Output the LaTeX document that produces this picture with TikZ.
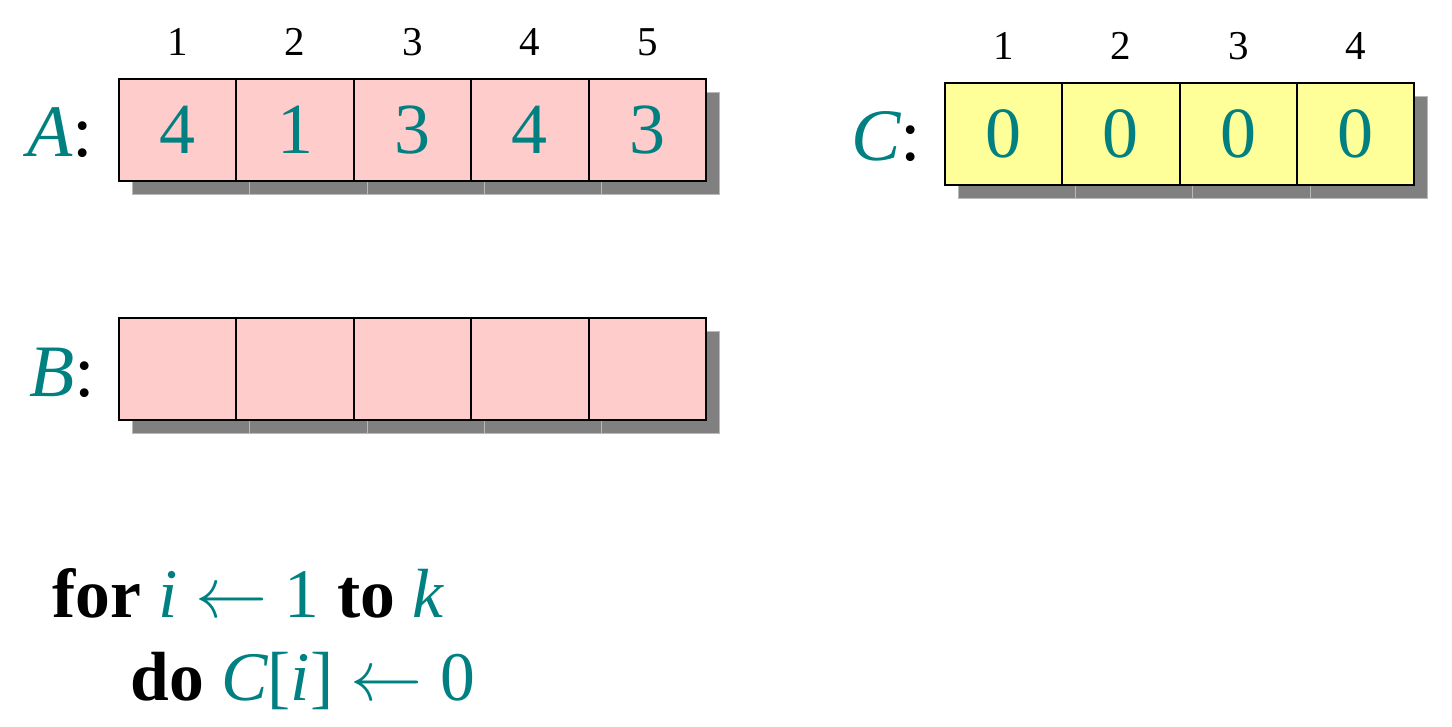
\documentclass[tikz,border=0pt]{standalone}
\usepackage{fontspec}
\usepackage{graphicx}
\setmainfont{Liberation Serif}
\definecolor{tealc}{RGB}{0,128,128}
\definecolor{pinkc}{RGB}{255,204,204}
\definecolor{yellowc}{RGB}{255,255,153}
\definecolor{shadc}{RGB}{128,128,128}
\newcommand{\larr}{\scalebox{1.45}{$\leftarrow$}}
\tikzset{
  cellA/.style={draw=black, line width=1pt, fill=pinkc, inner sep=0pt, minimum width=58.7pt, minimum height=51pt, text=tealc, font=\fontsize{36}{40}\selectfont},
  cellC/.style={cellA, fill=yellowc},
  shadow/.style={fill=shadc, draw=gray!55, line width=0.3pt},
  idx/.style={font=\fontsize{20.5}{24}\selectfont, inner sep=0pt},
  lbl/.style={font=\fontsize{37}{40}\selectfont, inner sep=0pt, anchor=base west},
  code/.style={font=\fontsize{34.8}{40}\selectfont, inner sep=0pt, anchor=base west}
}
\begin{document}
\begin{tikzpicture}[x=0.5pt,y=-0.5pt]
\useasboundingbox (0,0) rectangle (1452,727);
% shadows
\foreach \i in {1,...,5}{
  \fill[shadow] ({119+117.4*(\i-1)+13},92) rectangle ({119+117.4*\i+13},194);
  \fill[shadow] ({119+117.4*(\i-1)+13},331) rectangle ({119+117.4*\i+13},433);
}
\foreach \i in {1,...,4}{
  \fill[shadow] ({945+117.3*(\i-1)+13},96) rectangle ({945+117.3*\i+13},198);
}
% array A
\foreach \i/\v in {1/4,2/1,3/3,4/4,5/3}{
  \node[cellA] (a\i) at ({119+117.4*(\i-0.5)},130) {\raisebox{-1.5pt}{\v}};
  \node[idx] (ai\i) at ({119+117.4*(\i-0.5)},42) {\i};
}
% array B
\foreach \i in {1,...,5}{
  \node[cellA] (b\i) at ({119+117.4*(\i-0.5)},369) {};
}
% array C
\foreach \i in {1,...,4}{
  \node[cellC] (c\i) at ({945+117.3*(\i-0.5)},134) {\raisebox{-1.5pt}{0}};
  \node[idx] (ci\i) at ({945+117.3*(\i-0.5)},46) {\i};
}
% labels
\node[lbl] (la) at (27,157) {\textcolor{tealc}{\itshape A}:};
\node[lbl] (lb) at (29,396) {\textcolor{tealc}{\itshape B}:};
\node[lbl] (lc) at (851,161) {\textcolor{tealc}{\itshape C}:};
% pseudocode
\node[code] (l1) at (52,617) {\textbf{for} \textcolor{tealc}{{\itshape i} \larr{} 1} \textbf{to} \textcolor{tealc}{\itshape k}};
\node[code] (l2) at (130,700) {\textbf{do} \textcolor{tealc}{{\itshape C}[{\itshape i}] \larr{} 0}};
\end{tikzpicture}
\end{document}
